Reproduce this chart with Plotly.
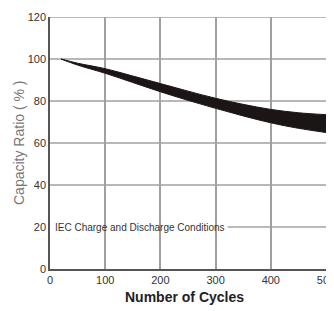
import plotly.graph_objects as go

# Data
cycles = [20, 50, 100, 150, 200, 250, 300, 350, 400, 450, 500]
upper = [100, 98.0, 95.4, 91.9, 88.3, 84.7, 81.3, 78.4, 76.0, 74.4, 73.5]
lower = [100, 97.1, 93.2, 88.8, 84.4, 80.3, 76.5, 72.9, 69.6, 67.0, 65.0]

x_ticks = [0, 100, 200, 300, 400, 500]
y_ticks = [0, 20, 40, 60, 80, 100, 120]
grid_y = [40, 60, 80, 100, 120]
label_text = "IEC Charge and Discharge Conditions"
label_y = 20
label_x = 6
label_line_start = 322
y_title = "Capacity Ratio ( % )"
x_title = "Number of Cycles"

band_color = "#1c1515"
grid_color = "#a0a0a0"
axis_color = "#555555"
font_fam = "Liberation Sans, Arial, sans-serif"

fig = go.Figure()
fig.add_trace(go.Scatter(x=cycles, y=lower, mode="lines",
                         line=dict(color=band_color, width=1, shape="spline"),
                         hoverinfo="skip", showlegend=False))
fig.add_trace(go.Scatter(x=cycles, y=upper, mode="lines", fill="tonexty",
                         fillcolor=band_color,
                         line=dict(color=band_color, width=1, shape="spline"),
                         hoverinfo="skip", showlegend=False))

shapes = []
for gy in grid_y:
    shapes.append(dict(type="line", xref="x", yref="y", x0=0, x1=500, y0=gy, y1=gy,
                       line=dict(color=grid_color, width=1.5), layer="below"))
shapes.append(dict(type="line", xref="x", yref="y", x0=label_line_start, x1=500,
                   y0=label_y, y1=label_y, line=dict(color="#777777", width=1.2), layer="below"))

fig.update_layout(
    width=326, height=303,
    margin=dict(l=42, r=8, t=9, b=42, autoexpand=False),
    paper_bgcolor="white", plot_bgcolor="white",
    shapes=shapes,
    font=dict(family=font_fam, size=11, color="#333333"),
    xaxis=dict(range=[0, 500], tickvals=x_ticks, ticktext=[str(v) for v in x_ticks],
               showgrid=True, gridcolor=grid_color, gridwidth=1.5,
               showline=True, linecolor=axis_color, linewidth=1.5,
               zeroline=False, ticks="", automargin=False, ticklabeloverflow="allow",
               tickfont=dict(size=11, color="#333333")),
    yaxis=dict(range=[0, 120], tickvals=y_ticks, ticktext=[str(v) for v in y_ticks],
               showgrid=False, showline=True, linecolor=axis_color, linewidth=1.5,
               zeroline=False, ticks="", automargin=False, ticklabeloverflow="allow",
               tickfont=dict(size=11, color="#333333")),
    annotations=[
        dict(x=label_x, y=label_y, xref="x", yref="y", text=label_text,
             showarrow=False, xanchor="left", yanchor="middle",
             font=dict(size=10, color="#333333")),
        dict(x=0, y=0.5, xref="paper", yref="paper", text=y_title, textangle=-90,
             showarrow=False, xanchor="center", yanchor="middle", xshift=-31,
             font=dict(size=14, color="#777777")),
        dict(x=0.5, y=0, xref="paper", yref="paper", text=x_title,
             showarrow=False, xanchor="center", yanchor="middle", xshift=-4, yshift=-28,
             font=dict(size=14, color="#222222", weight="bold")),
    ],
)

fig.write_html("out.html")
